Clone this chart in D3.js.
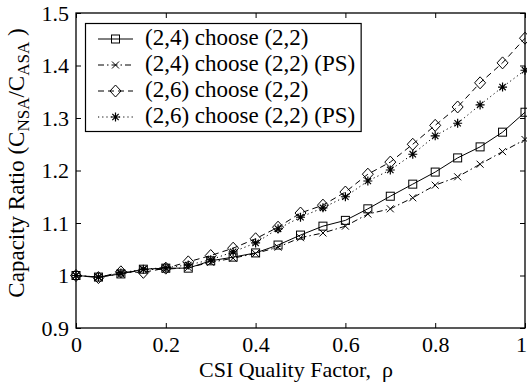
<!DOCTYPE html>
<html><head><meta charset="utf-8">
<script src="https://cdn.jsdelivr.net/npm/d3@7"></script>
<style>
html,body{margin:0;padding:0;background:#fff;}
svg{display:block;font-family:"Liberation Serif","Times New Roman",serif;}
</style></head>
<body><svg id="c" width="527" height="384"></svg>
<script>
const rho = [0,0.05,0.1,0.15,0.2,0.25,0.3,0.35,0.4,0.45,0.5,0.55,0.6,0.65,0.7,0.75,0.8,0.85,0.9,0.95,1.0];
const s24   = [1.000,0.997,1.003,1.012,1.014,1.014,1.028,1.035,1.043,1.058,1.077,1.094,1.105,1.127,1.151,1.174,1.197,1.224,1.245,1.273,1.311];
const s24ps = [1.000,0.997,1.003,1.011,1.012,1.015,1.025,1.033,1.042,1.054,1.072,1.081,1.094,1.117,1.127,1.148,1.172,1.188,1.212,1.236,1.259];
const s26   = [1.000,0.996,1.007,1.006,1.014,1.026,1.038,1.052,1.070,1.092,1.119,1.134,1.159,1.193,1.216,1.250,1.286,1.321,1.367,1.405,1.452];
const s26ps = [1.000,0.997,1.005,1.012,1.015,1.020,1.030,1.045,1.062,1.089,1.111,1.129,1.150,1.180,1.201,1.231,1.266,1.290,1.325,1.359,1.391];
const seriesNames = ["(2,4) choose (2,2)","(2,4) choose (2,2) (PS)","(2,6) choose (2,2)","(2,6) choose (2,2) (PS)"];
const xTicks = [0,0.2,0.4,0.6,0.8,1];
const yTicks = [0.9,1.0,1.1,1.2,1.3,1.4,1.5];
const yTickLabels = ["0.9","1","1.1","1.2","1.3","1.4","1.5"];

const styles = [
  {dash:null, marker:"square"},
  {dash:"6,3,1.5,3", marker:"x"},
  {dash:"6,4", marker:"diamond"},
  {dash:"1.2,3", marker:"star"}
];
const data = [s24,s24ps,s26,s26ps];

const svg = d3.select("#c");
const L=76,R=525,T=13,B=328;
const x = d3.scaleLinear().domain([0,1]).range([L,R]);
const y = d3.scaleLinear().domain([0.9,1.5]).range([B,T]);

function drawMarker(g,type,cx,cy){
  if(type==="square"){
    g.append("rect").attr("x",cx-4).attr("y",cy-4).attr("width",8).attr("height",8)
     .attr("fill","none").attr("stroke","#000").attr("stroke-width",1);
  } else if(type==="x"){
    g.append("path").attr("d",`M${cx-3.5},${cy-3.5}L${cx+3.5},${cy+3.5}M${cx-3.5},${cy+3.5}L${cx+3.5},${cy-3.5}`)
     .attr("stroke","#000").attr("stroke-width",1).attr("fill","none");
  } else if(type==="diamond"){
    g.append("path").attr("d",`M${cx},${cy-6}L${cx+5.5},${cy}L${cx},${cy+6}L${cx-5.5},${cy}Z`)
     .attr("fill","none").attr("stroke","#000").attr("stroke-width",1);
  } else if(type==="star"){
    const r=4.5, d=3.2;
    g.append("path").attr("d",`M${cx},${cy-r}L${cx},${cy+r}M${cx-d},${cy-d}L${cx+d},${cy+d}M${cx-d},${cy+d}L${cx+d},${cy-d}M${cx-r},${cy}L${cx+r},${cy}`)
     .attr("stroke","#000").attr("stroke-width",1.2).attr("fill","none");
  }
}

// axes box
svg.append("rect").attr("x",L).attr("y",T).attr("width",R-L).attr("height",B-T)
  .attr("fill","none").attr("stroke","#000").attr("stroke-width",1.3);

const FONT = "Liberation Serif";
const gxb = svg.append("g").attr("transform",`translate(0,${B})`)
  .call(d3.axisBottom(x).tickValues(xTicks).tickSize(-5).tickFormat(d=>d3.format("")(d)));
gxb.select(".domain").remove();
gxb.selectAll("text").attr("font-size",22).attr("font-family",FONT).attr("fill","#000").attr("dy",null).attr("y",24)
  .attr("x",d=>d===1?-4:0);
const gxt = svg.append("g").attr("transform",`translate(0,${T})`).call(d3.axisTop(x).tickValues(xTicks).tickSize(-5).tickFormat(""));
gxt.select(".domain").remove();

const gyl = svg.append("g").attr("transform",`translate(${L},0)`)
  .call(d3.axisLeft(y).tickValues(yTicks).tickSize(-5).tickFormat((d,i)=>yTickLabels[i]));
gyl.select(".domain").remove();
gyl.selectAll("text").attr("font-size",22).attr("font-family",FONT).attr("fill","#000").attr("x",-7).attr("dy","0.34em");
const gyr = svg.append("g").attr("transform",`translate(${R},0)`).call(d3.axisRight(y).tickValues(yTicks).tickSize(-5).tickFormat(""));
gyr.select(".domain").remove();
svg.selectAll(".tick line").attr("stroke","#000");

// series
const line = d3.line().x((d,i)=>x(rho[i])).y(d=>y(d));
data.forEach((vals,k)=>{
  const p = svg.append("path").attr("d",line(vals)).attr("fill","none").attr("stroke","#000").attr("stroke-width",1);
  if(styles[k].dash) p.attr("stroke-dasharray",styles[k].dash);
  const g = svg.append("g");
  vals.forEach((v,i)=>drawMarker(g,styles[k].marker,x(rho[i]),y(v)));
});

// legend
const lg = svg.append("g");
const box = lg.append("rect").attr("x",85.5).attr("y",23.5).attr("height",108)
  .attr("fill","#fff").attr("stroke","#000").attr("stroke-width",1.2);
let maxW = 0;
seriesNames.forEach((name,k)=>{
  const yy = 39 + k*26;
  const l = lg.append("line").attr("x1",98).attr("x2",133).attr("y1",yy).attr("y2",yy).attr("stroke","#000").attr("stroke-width",1);
  if(styles[k].dash) l.attr("stroke-dasharray",styles[k].dash);
  drawMarker(lg,styles[k].marker,115.5,yy);
  const t = lg.append("text").attr("x",145).attr("y",yy+6).attr("font-size",23).attr("font-family",FONT).attr("fill","#000").text(name);
  maxW = Math.max(maxW, t.node().getComputedTextLength());
});
box.attr("width", 145 + maxW + 6 - 85.5);

// x label
svg.append("text").attr("x",296).attr("y",377).attr("text-anchor","middle").attr("font-size",22).attr("font-family",FONT)
  .style("white-space","pre").text("CSI Quality Factor,  \u03c1");

// y label
const yl = svg.append("text").attr("transform","translate(24,163) rotate(-90)").attr("text-anchor","middle").attr("font-size",23).attr("font-family",FONT);
yl.append("tspan").text("Capacity Ratio (C");
yl.append("tspan").attr("font-size",17).attr("dy",5).text("NSA");
yl.append("tspan").attr("dy",-5).text("/C");
yl.append("tspan").attr("font-size",17).attr("dy",5).text("ASA");
yl.append("tspan").attr("dy",-5).style("white-space","pre").text(" )");
</script></body></html>
